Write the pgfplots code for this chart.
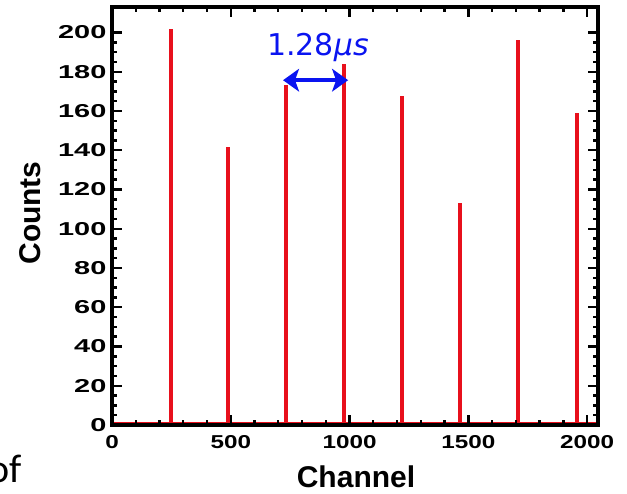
\documentclass[border=0pt]{standalone}
\usepackage{graphicx}
\usepackage{pgfplots}
\pgfplotsset{compat=1.18}
\usepackage{fontspec}
\setmainfont{Liberation Sans}
\newfontfamily\dejavu{DejaVu Sans}
\newfontfamily\carlito{Carlito}
\usetikzlibrary{arrows.meta}
\definecolor{peakred}{RGB}{232,16,28}
\definecolor{arrblue}{RGB}{10,20,240}

\begin{document}
\begin{tikzpicture}
% page = 627x493 px, 1 px = 0.75pt
\useasboundingbox (-84pt,-51pt) rectangle (386.25pt,318.75pt);
\begin{axis}[
  name=ax, at={(0,0)}, anchor=south west,
  scale only axis, width=364.5pt, height=313.5pt,
  xmin=0, xmax=2046, ymin=0, ymax=213,
  xtick={0,500,...,2000}, minor x tick num=4,
  ytick={0,20,...,200}, minor y tick num=3,
  tick align=inside,
  major tick length=7.5pt, minor tick length=4pt,
  every tick/.style={black, line width=1.8pt},
  axis line style={line width=2.5pt},
  axis on top,
  /pgf/number format/assume math mode=true,
  /pgf/number format/1000 sep={},
  xticklabel={\scalebox{1.3}[1]{\pgfmathprintnumber{\tick}}},
  yticklabel={\scalebox{1.55}[1]{\pgfmathprintnumber{\tick}}},
  xticklabel style={font=\bfseries\fontsize{14}{14}\selectfont,
    anchor=north, inner sep=0pt, yshift=-7.5pt},
  yticklabel style={font=\bfseries\fontsize{14}{14}\selectfont,
    anchor=east, inner sep=0pt, xshift=-4pt},
]
% peaks: channel, counts
\addplot[ycomb, peakred, line width=3pt, no markers] coordinates {
  (247,202) (490,141.7) (733,173.5) (978,184.2)
  (1220,167.6) (1465,112.9) (1711,196.4) (1957,159)};
% flat baseline
\addplot[peakred, line width=2pt, no markers] coordinates {(0,1) (2046,1)};

\node[anchor=base, inner sep=0pt, text=arrblue,
  font=\dejavu\fontsize{22.5}{22.5}\selectfont] at (axis cs:867,188.4) {1.28\textit{μs}};
\draw[arrblue, line width=3pt,
  {Stealth[length=12pt,width=17pt,inset=3pt]}-{Stealth[length=12pt,width=17pt,inset=3pt]}]
  (axis cs:720,175.7) -- (axis cs:994,175.7);
\end{axis}

\node[rotate=90, font=\bfseries\fontsize{22.5}{22.5}\selectfont, anchor=center] at (-61.5pt,159pt) {Counts};
\node[anchor=base, font=\bfseries\fontsize{22.5}{22.5}\selectfont] at (183pt,-46.5pt) {Channel};
\node[anchor=base east, inner sep=0pt, font=\carlito\fontsize{30}{30}\selectfont] at (-67.5pt,-42.75pt) {of};
\end{tikzpicture}
\end{document}
